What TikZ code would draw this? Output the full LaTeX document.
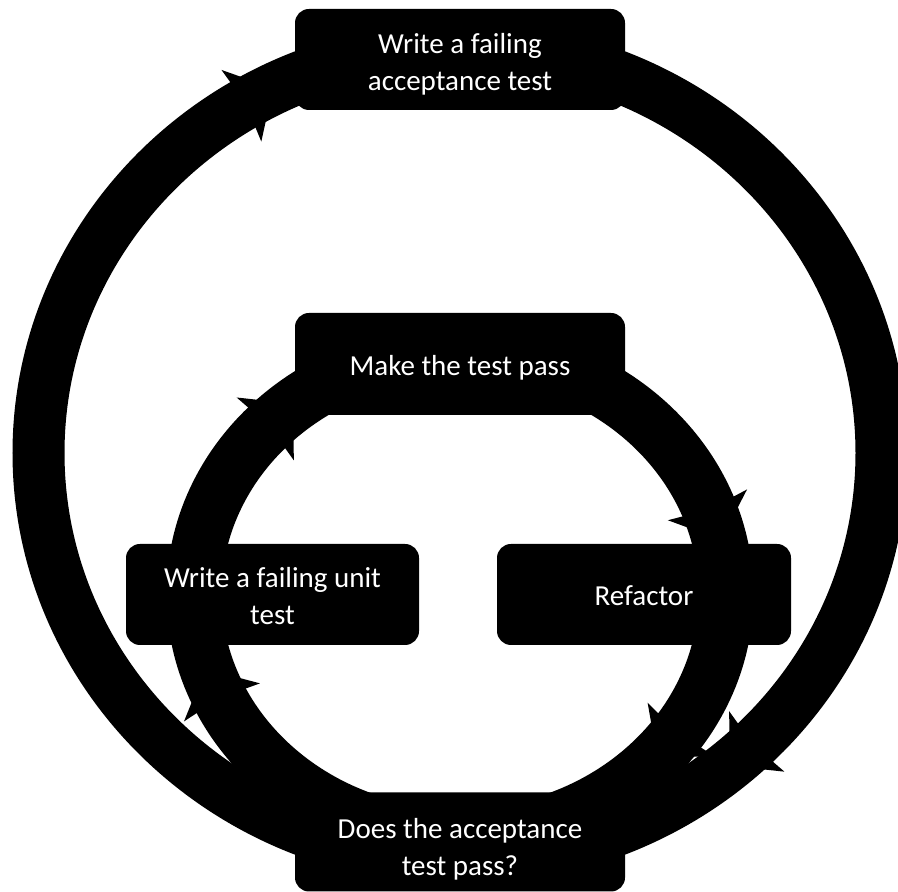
\documentclass[tikz,border=0pt]{standalone}
\usepackage{fontspec}
\setmainfont{Carlito}
\usetikzlibrary{calc}
\tikzset{
  box/.style={fill=black, rounded corners=14pt, text=white,
    font=\fontsize{29}{37}\selectfont, inner sep=0pt},
  outerring/.style={draw=black, line width=52pt},
  innerring/.style={draw=black, line width=55pt},
}
% text lowered by #1 inside a box, keeping the box's own dimensions
\newcommand{\boxtext}[2]{\raisebox{#1}[\height][\depth]{\begin{tabular}{@{}c@{}}#2\end{tabular}}}
% arrow barbs (spikes) on both edges of an elliptic ring, clockwise travel
\newcommand{\spikepair}[6]{%
  \pgfmathsetmacro\spPX{#1+#3*cos(#6)}%
  \pgfmathsetmacro\spPY{#2+#4*sin(#6)}%
  \pgfmathsetmacro\spL{100*sqrt((#3/100*sin(#6))^2+(#4/100*cos(#6))^2)}%
  \pgfmathsetmacro\spTX{#3*sin(#6)/\spL}%
  \pgfmathsetmacro\spTY{-#4*cos(#6)/\spL}%
  \pgfmathsetmacro\spNX{-(\spTY)}%
  \pgfmathsetmacro\spNY{\spTX}%
  \fill ({\spPX+(#5-2)*(\spNX)-7*(\spTX)},{\spPY+(#5-2)*(\spNY)-7*(\spTY)})
     -- ({\spPX+(#5-2)*(\spNX)+6*(\spTX)},{\spPY+(#5-2)*(\spNY)+6*(\spTY)})
     -- ({\spPX+(#5+15)*(\spNX)-9*(\spTX)},{\spPY+(#5+15)*(\spNY)-9*(\spTY)}) -- cycle;
  \fill ({\spPX-(#5-2)*(\spNX)-7*(\spTX)},{\spPY-(#5-2)*(\spNY)-7*(\spTY)})
     -- ({\spPX-(#5-2)*(\spNX)+6*(\spTX)},{\spPY-(#5-2)*(\spNY)+6*(\spTY)})
     -- ({\spPX-(#5+15)*(\spNX)-9*(\spTX)},{\spPY-(#5+15)*(\spNY)-9*(\spTY)}) -- cycle;
}
\begin{document}
\begin{tikzpicture}[x=1pt,y=1pt]
\useasboundingbox (0,0) rectangle (898,892);
\fill[white] (0,0) rectangle (898,892);
\clip (0,0) rectangle (898,892);

% ring centres
\coordinate (oc) at (460,439);
\coordinate (ic) at (460,298);

% outer cycle: top -> bottom (right side), bottom -> top (left side)
\coordinate (otop) at ($(oc)+(90:421.5pt and 406pt)$);
\coordinate (obot) at ($(oc)+(-90:421.5pt and 406pt)$);
\draw[outerring] (otop) arc[start angle=90, end angle=-90, x radius=421.5pt, y radius=406pt];
\draw[outerring] (obot) arc[start angle=270, end angle=90, x radius=421.5pt, y radius=406pt];

% inner cycle: make -> refactor -> bottom -> unit -> make
\coordinate (itop) at ($(ic)+(90:266pt and 242pt)$);
\coordinate (iright) at ($(ic)+(0:266pt and 242pt)$);
\coordinate (ibot) at ($(ic)+(-90:266pt and 242pt)$);
\coordinate (ileft) at ($(ic)+(180:266pt and 242pt)$);
\draw[innerring] (itop) arc[start angle=90, end angle=0, x radius=266pt, y radius=242pt];
\draw[innerring] (iright) arc[start angle=0, end angle=-90, x radius=266pt, y radius=242pt];
\draw[innerring] (ibot) arc[start angle=270, end angle=180, x radius=266pt, y radius=242pt];
\draw[innerring] (ileft) arc[start angle=180, end angle=90, x radius=266pt, y radius=242pt];

% arrow barbs
\spikepair{460}{439}{421.5}{406}{26}{120}
\spikepair{460}{439}{421.5}{406}{26}{-46.5}
\spikepair{460}{298}{266}{242}{27.5}{135}
\spikepair{460}{298}{266}{242}{27.5}{19.5}
\spikepair{460}{298}{266}{242}{27.5}{-36}
\spikepair{460}{298}{266}{242}{27.5}{-155.5}

% boxes
\node[box, minimum width=330pt, minimum height=101pt] (accept) at (460,832.5) {\boxtext{-5pt}{Write a failing\\acceptance test}};
\node[box, minimum width=330pt, minimum height=102pt] (make) at (460,528) {\boxtext{-4pt}{Make the test pass}};
\node[box, minimum width=293pt, minimum height=101pt] (unit) at (272.5,297.5) {\boxtext{-4pt}{Write a failing unit\\test}};
\node[box, minimum width=294pt, minimum height=101pt] (refactor) at (644,297.5) {\boxtext{-4pt}{Refactor}};
\node[box, minimum width=330pt, minimum height=99pt] (check) at (460,50) {\boxtext{-8pt}{Does the acceptance\\test pass?}};
\end{tikzpicture}
\end{document}
